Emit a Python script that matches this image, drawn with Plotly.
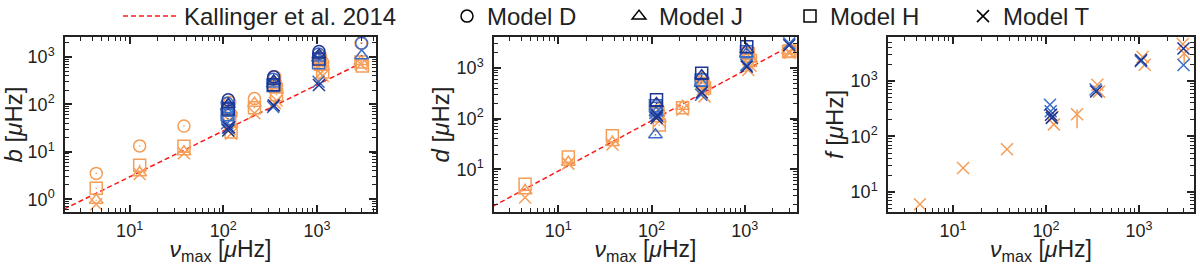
import plotly.graph_objects as go

# ---------------- data ----------------
# Kallinger et al. 2014 relations (end points of the straight lines)
kal_numax = [2.0, 2800]
kal_b = [0.62, 700]
kal_d = [1.88, 2490]

# orange set
o_numax = [4.4, 12.8, 38, 117, 121, 215, 355, 370, 1090, 1150, 2950, 3050]
o_bD = [3.5, 13.3, 35, 110, 62, 132, 383, 250, 1050, 760, 1950, None]
o_bJ = [0.95, 3.6, 10, 75, 38, 105, 290, 200, 850, 620, 800, None]
o_bH = [1.7, 5.2, 13, 45, 26, 85, 240, 160, 700, 480, 780, 640]
o_bT = [0.78, 3.4, 9.3, 30, 24, 65, 107, 120, 450, 400, 700, None]
o_dJ = [3.8, 13.8, 34, 160, 100, 175, 650, 480, 1800, 1500, 2200, None]
o_dH = [5.1, 17.5, 46, 130, 75, 165, 500, 400, 1900, 1400, 2100, 2150]
o_dT = [2.8, 13, 31, 110, 90, 150, 380, 275, 910, 1100, 2050, 2000]
o_fT = [6.0, 27, 59, 225, 165, 250, 850, 640, 2700, 1950, 4600, 3100]
o_fT_errp = [0, 0, 0, 0, 0, 55, 0, 0, 0, 0, 0, 300]
o_fT_errm = [0, 0, 0, 0, 0, 110, 0, 0, 0, 0, 0, 1000]

# blue set
b_numax = [110, 112, 340, 1040, 3000]
b_bD = [105, 85, 340, 1150, 1950]
b_bJ = [90, 65, 270, 950, 1060]
b_bH = [60, 50, 250, 750, None]
b_bT = [40, 32, 88, 300, None]
b_dJ = [48, 130, 500, 1900, None]
b_dH = [180, 160, 580, 2090, None]
b_dT = [130, 115, 295, 1150, 3050]
b_fT = [373, 283, 700, 2250, 1930]

# navy set
n_numax = [113, 115, 345, 1050, 3000]
n_bD = [125, None, 380, 1300, None]
n_bJ = [100, None, 310, 1100, None]
n_bH = [80, None, 260, 900, None]
n_bT = [28, 33, 95, 256, None]
n_dJ = [200, None, 700, 2300, None]
n_dH = [236, None, 787, 2620, None]
n_dT = [103, 115, 330, 1060, 2800]
n_fT = [246, 216, 645, 2370, 3830]

# tick labels
x_tickvals = [10, 100, 1000]
x_ticktext = ['10<sup>1</sup>', '10<sup>2</sup>', '10<sup>3</sup>']
b_tickvals = [1, 10, 100, 1000]
b_ticktext = ['10<sup>0</sup>', '10<sup>1</sup>', '10<sup>2</sup>', '10<sup>3</sup>']
d_tickvals = [10, 100, 1000]
d_ticktext = ['10<sup>1</sup>', '10<sup>2</sup>', '10<sup>3</sup>']
f_tickvals = [10, 100, 1000]
f_ticktext = ['10<sup>1</sup>', '10<sup>2</sup>', '10<sup>3</sup>']

# ---------------- styles ----------------
ORANGE = '#f59e58'
BLUE = '#3b6cc6'
NAVY = '#1d3592'
INK = '#222222'
FONT = 'Liberation Sans'

SYM = {'D': 'circle-open', 'J': 'triangle-up-open', 'H': 'square-open', 'T': 'x-thin'}

fig = go.Figure()


def add_pts(x, y, color, model, xa, ya, err=None):
    eb = dict(type='percent', value=3, thickness=1.5, width=0, color=color)
    if err is not None:
        eb = dict(type='data', array=err[0], arrayminus=err[1], thickness=1.5,
                  width=0, color=color)
    fig.add_trace(go.Scatter(
        x=x, y=y, mode='markers', xaxis=xa, yaxis=ya, showlegend=False,
        marker=dict(symbol=SYM[model], size=12, color=color,
                    line=dict(color=color, width=1.5)),
        error_y=eb, hoverinfo='x+y'))


# Kallinger lines
for xa, ya, yv in (('x', 'y', kal_b), ('x2', 'y2', kal_d)):
    fig.add_trace(go.Scatter(x=kal_numax, y=yv, mode='lines', xaxis=xa, yaxis=ya,
                             showlegend=False,
                             line=dict(color='#ff1a1a', width=1.5, dash='5px,3px')))

sets = [
    (o_numax, ORANGE, o_bD, o_bJ, o_bH, o_bT, o_dJ, o_dH, o_dT, o_fT),
    (b_numax, BLUE, b_bD, b_bJ, b_bH, b_bT, b_dJ, b_dH, b_dT, b_fT),
    (n_numax, NAVY, n_bD, n_bJ, n_bH, n_bT, n_dJ, n_dH, n_dT, n_fT),
]
for nm, col, bD, bJ, bH, bT, dJ, dH, dT, fT in sets:
    add_pts(nm, bD, col, 'D', 'x', 'y')
    add_pts(nm, bJ, col, 'J', 'x', 'y')
    add_pts(nm, bH, col, 'H', 'x', 'y')
    add_pts(nm, bT, col, 'T', 'x', 'y')
    add_pts(nm, dJ, col, 'J', 'x2', 'y2')
    add_pts(nm, dH, col, 'H', 'x2', 'y2')
    add_pts(nm, dT, col, 'T', 'x2', 'y2')
    if col == ORANGE:
        add_pts(nm, fT, col, 'T', 'x3', 'y3', err=(o_fT_errp, o_fT_errm))
    else:
        add_pts(nm, fT, col, 'T', 'x3', 'y3')

# legend entries (black symbols)
fig.add_trace(go.Scatter(x=[None], y=[None], mode='lines', name='Kallinger et al. 2014',
                         line=dict(color='#ff1a1a', width=1.5, dash='5px,3px'),
                         legend='legend'))
for m, lg in (('D', 'legend2'), ('J', 'legend3'), ('H', 'legend4'), ('T', 'legend5')):
    fig.add_trace(go.Scatter(x=[None], y=[None], mode='markers', name='Model ' + m,
                             marker=dict(symbol=SYM[m], size=12, color='black',
                                         line=dict(color='black', width=1.5)),
                             legend=lg))

leg_common = dict(y=1.0226, yref='paper', yanchor='top', xanchor='left', orientation='h',
                  bgcolor='rgba(0,0,0,0)', font=dict(family=FONT, size=24, color=INK))

YD = [0.2, 0.8604]


def xax(dom, rng, anchor):
    return dict(type='log', domain=dom, range=rng, anchor=anchor,
                tickmode='array', tickvals=x_tickvals, ticktext=x_ticktext,
                showline=True, linecolor=INK, linewidth=1.5, mirror='allticks',
                ticks='inside', ticklen=7, tickwidth=1.5, tickcolor=INK,
                minor=dict(ticks='inside', ticklen=4, tickwidth=1, tickcolor=INK,
                           showgrid=False, dtick='D1'),
                showgrid=False, zeroline=False, ticklabelstandoff=2,
                tickfont=dict(family=FONT, size=18, color=INK),
                title=dict(text='<i>ν</i><sub>max</sub> [<i>μ</i>Hz]',
                           font=dict(family=FONT, size=23, color=INK), standoff=0))


def yax(rng, title, anchor, tv, tt):
    return dict(type='log', domain=YD, range=rng, anchor=anchor,
                tickmode='array', tickvals=tv, ticktext=tt,
                showline=True, linecolor=INK, linewidth=1.5, mirror='allticks',
                ticks='inside', ticklen=7, tickwidth=1.5, tickcolor=INK,
                minor=dict(ticks='inside', ticklen=4, tickwidth=1, tickcolor=INK,
                           showgrid=False, dtick='D1'),
                showgrid=False, zeroline=False, ticklabelstandoff=5,
                tickfont=dict(family=FONT, size=18, color=INK),
                title=dict(text=title, font=dict(family=FONT, size=24, color=INK), standoff=0))


fig.update_layout(
    width=1200, height=265,
    margin=dict(l=0, r=0, t=0, b=0, autoexpand=False),
    paper_bgcolor='white', plot_bgcolor='white',
    xaxis=xax([65 / 1200, 376 / 1200], [0.31, 3.63], 'y'),
    xaxis2=xax([494 / 1200, 797 / 1200], [0.31, 3.56], 'y2'),
    xaxis3=xax([888 / 1200, 1194 / 1200], [0.30, 3.59], 'y3'),
    yaxis=yax([-0.27, 3.42], '<i>b</i> [<i>μ</i>Hz]', 'x', b_tickvals, b_ticktext),
    yaxis2=yax([0.16, 3.61], '<i>d</i> [<i>μ</i>Hz]', 'x2', d_tickvals, d_ticktext),
    yaxis3=yax([0.64, 3.79], '<i>f</i> [<i>μ</i>Hz]', 'x3', f_tickvals, f_ticktext),
    legend=dict(leg_common, x=118 / 1200, itemwidth=56),
    legend2=dict(leg_common, x=447 / 1200, itemwidth=30),
    legend3=dict(leg_common, x=619 / 1200, itemwidth=30),
    legend4=dict(leg_common, x=790 / 1200, itemwidth=30),
    legend5=dict(leg_common, x=963 / 1200, itemwidth=30),
)

fig.write_html('out.html', config={'displayModeBar': False},
               post_script="document.body.style.margin='0px';document.body.style.overflow='hidden';")
